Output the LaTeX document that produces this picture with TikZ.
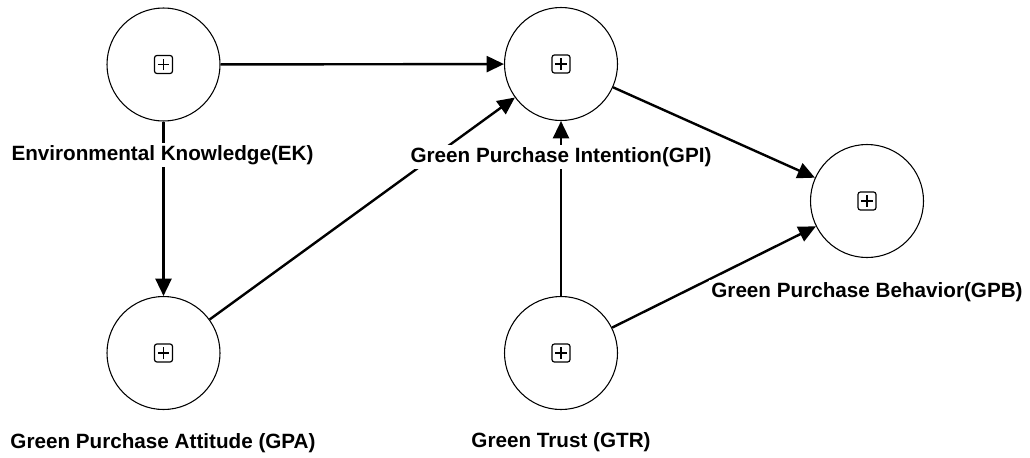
\documentclass[tikz,border=0pt]{standalone}
\usepackage{fontspec}
\setmainfont{Liberation Sans}
\usetikzlibrary{arrows.meta}
\begin{document}
\begin{tikzpicture}
% path model: latent constructs and their paths
\def\px{0.75pt}
\providecommand{\latentSize}{84.75pt}
\providecommand{\pathWidth}{1.8pt}
\tikzset{
  latent/.style={circle, draw, line width=0.8pt, fill=white, minimum size=\latentSize, inner sep=0pt},
  path/.style={line width=\pathWidth, -{Triangle[length=13pt,width=12pt]}},
  varname/.style={fill=white, inner sep=1.5pt, font=\fontsize{15.5}{18}\selectfont\bfseries},
  plusbox/.style={line width=0.9pt, rounded corners=2pt}
}
\begin{scope}[x=\px, y=-\px, line cap=butt, line join=miter]
  \useasboundingbox (0,0) rectangle (1030,457);
  % Constructs
  \node[latent] (ek)  at (163.5,64.5) {};
  \node[latent] (gpi) at (561,64) {};
  \node[latent] (gpb) at (867,201) {};
  \node[latent] (gpa) at (163.5,353) {};
  \node[latent] (gtr) at (561,353) {};
  % Expand markers
  \foreach \n in {ek,gpi,gpb,gpa,gtr} {
    \draw[plusbox] ([xshift=-6.8pt,yshift=-6.8pt]\n.center) rectangle ([xshift=6.8pt,yshift=6.8pt]\n.center);
    \draw[line width=0.9pt] ([xshift=-4.3pt]\n.center) -- ([xshift=4.3pt]\n.center);
    \draw[line width=0.9pt] ([yshift=-4.3pt]\n.center) -- ([yshift=4.3pt]\n.center);
  }
  % Paths
  \draw[path] (ek) -- (gpi);
  \draw[path] (ek) -- (gpa);
  \draw[path] (gpa) -- (gpi);
  \draw[path] (gtr) -- (gpi);
  \draw[path] (gpi) -- (gpb);
  \draw[path] (gtr) -- (gpb);
  % Construct names
  \node[varname] (ekname)  at (162.5,155) {Environmental Knowledge(EK)};
  \node[varname] (gpiname) at (561,157) {Green Purchase Intention(GPI)};
  \node[varname] (gpbname) at (867,292) {Green Purchase Behavior(GPB)};
  \node[varname] (gpaname) at (163,443) {Green Purchase Attitude (GPA)};
  \node[varname] (gtrname) at (561,442) {Green Trust (GTR)};
\end{scope}
\end{tikzpicture}
\end{document}
